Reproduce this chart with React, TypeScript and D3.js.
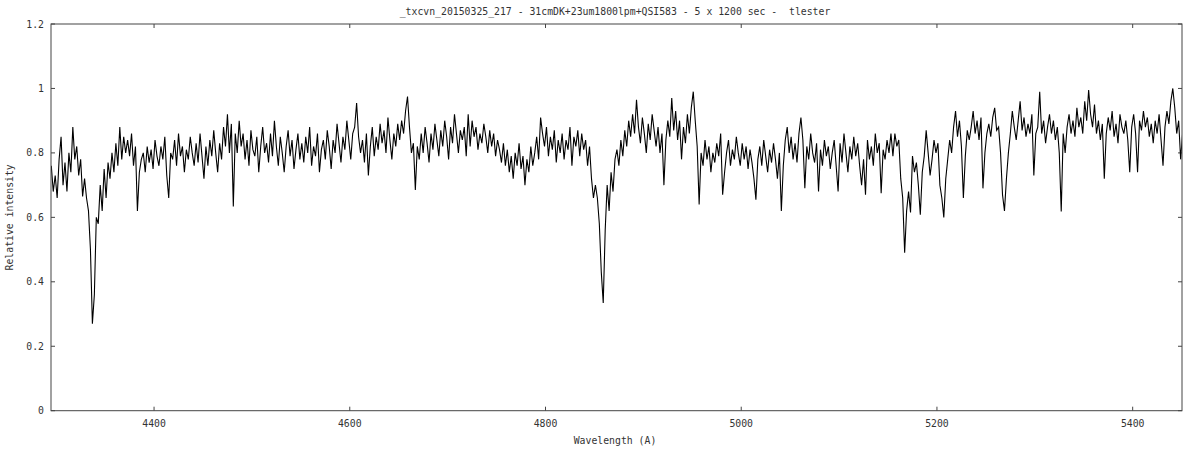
import React from "react";
import * as d3 from "d3";

const TITLE = "_txcvn_20150325_217 - 31cmDK+23um1800lpm+QSI583 - 5 x 1200 sec -  tlester";
const X_LABEL = "Wavelength (A)";
const Y_LABEL = "Relative intensity";
const X_TICKS = [4400, 4600, 4800, 5000, 5200, 5400];
const Y_TICKS = [0, 0.2, 0.4, 0.6, 0.8, 1, 1.2];
const X_DOMAIN = [4294.7, 5450.4];
const Y_DOMAIN = [0, 1.2];

// sampled every 2 Å starting at 4295 Å
const START_WL = 4295;
const STEP_WL = 2;
const intensity = [
  0.76,0.68,0.73,0.66,0.78,0.85,0.70,0.77,0.68,0.80,
  0.74,0.88,0.78,0.82,0.73,0.78,0.665,0.72,0.66,0.62,
  0.50,0.27,0.36,0.60,0.58,0.70,0.62,0.75,0.66,0.77,
  0.72,0.80,0.74,0.83,0.76,0.88,0.78,0.85,0.80,0.84,
  0.79,0.86,0.76,0.82,0.62,0.74,0.78,0.80,0.74,0.82,
  0.77,0.81,0.75,0.84,0.79,0.76,0.82,0.78,0.85,0.73,
  0.66,0.80,0.78,0.84,0.76,0.86,0.79,0.82,0.74,0.81,
  0.78,0.85,0.80,0.76,0.83,0.77,0.86,0.79,0.72,0.82,
  0.76,0.84,0.79,0.87,0.80,0.74,0.83,0.78,0.88,0.82,
  0.92,0.80,0.89,0.634,0.86,0.80,0.90,0.82,0.86,0.78,
  0.84,0.76,0.87,0.81,0.79,0.85,0.74,0.82,0.88,0.80,
  0.83,0.77,0.86,0.79,0.90,0.82,0.76,0.85,0.80,0.74,
  0.82,0.87,0.79,0.84,0.75,0.81,0.86,0.78,0.83,0.77,
  0.85,0.80,0.88,0.76,0.82,0.79,0.86,0.74,0.81,0.84,
  0.78,0.87,0.82,0.75,0.84,0.80,0.89,0.83,0.77,0.85,
  0.81,0.90,0.84,0.78,0.86,0.88,0.955,0.85,0.80,0.84,
  0.77,0.86,0.73,0.82,0.88,0.79,0.85,0.81,0.89,0.83,
  0.87,0.80,0.91,0.84,0.78,0.86,0.82,0.89,0.84,0.90,
  0.86,0.93,0.975,0.88,0.80,0.83,0.685,0.82,0.78,0.86,
  0.80,0.88,0.83,0.77,0.86,0.81,0.89,0.84,0.79,0.87,
  0.82,0.90,0.85,0.78,0.88,0.83,0.92,0.86,0.80,0.87,
  0.84,0.88,0.79,0.92,0.82,0.90,0.85,0.88,0.81,0.86,
  0.83,0.89,0.85,0.80,0.87,0.82,0.86,0.79,0.84,0.81,
  0.77,0.83,0.76,0.81,0.74,0.79,0.72,0.80,0.76,0.83,
  0.75,0.79,0.70,0.78,0.74,0.82,0.76,0.80,0.85,0.78,
  0.91,0.86,0.82,0.88,0.79,0.85,0.81,0.87,0.77,0.84,
  0.80,0.86,0.78,0.84,0.81,0.88,0.76,0.85,0.82,0.87,
  0.79,0.86,0.81,0.84,0.76,0.82,0.72,0.66,0.70,0.66,
  0.58,0.43,0.334,0.56,0.70,0.62,0.74,0.68,0.78,0.81,
  0.76,0.84,0.79,0.87,0.82,0.90,0.85,0.92,0.86,0.965,
  0.88,0.83,0.91,0.86,0.80,0.89,0.84,0.92,0.87,0.82,
  0.88,0.80,0.86,0.70,0.84,0.90,0.85,0.97,0.87,0.93,
  0.84,0.90,0.78,0.88,0.83,0.92,0.86,0.94,0.99,0.90,
  0.82,0.64,0.80,0.76,0.84,0.78,0.82,0.74,0.80,0.77,
  0.83,0.79,0.86,0.67,0.74,0.80,0.84,0.76,0.81,0.78,
  0.85,0.80,0.76,0.83,0.78,0.82,0.75,0.81,0.77,0.72,
  0.655,0.78,0.82,0.76,0.84,0.79,0.74,0.81,0.77,0.83,
  0.78,0.72,0.80,0.62,0.76,0.84,0.88,0.80,0.85,0.78,
  0.83,0.77,0.86,0.91,0.84,0.69,0.82,0.78,0.86,0.80,
  0.77,0.83,0.68,0.81,0.76,0.84,0.79,0.82,0.75,0.80,
  0.84,0.76,0.68,0.83,0.77,0.86,0.80,0.74,0.82,0.78,
  0.85,0.79,0.83,0.76,0.70,0.78,0.67,0.84,0.78,0.82,
  0.76,0.86,0.80,0.83,0.675,0.81,0.78,0.84,0.80,0.86,
  0.79,0.86,0.82,0.84,0.72,0.66,0.49,0.62,0.68,0.615,
  0.79,0.74,0.77,0.70,0.608,0.74,0.79,0.87,0.80,0.73,
  0.78,0.84,0.80,0.83,0.70,0.66,0.60,0.72,0.78,0.84,
  0.80,0.88,0.93,0.85,0.90,0.82,0.66,0.79,0.87,0.84,
  0.88,0.93,0.86,0.90,0.84,0.91,0.69,0.80,0.86,0.89,
  0.85,0.91,0.94,0.87,0.88,0.80,0.67,0.62,0.72,0.80,
  0.86,0.93,0.88,0.84,0.90,0.96,0.87,0.91,0.85,0.89,
  0.86,0.92,0.73,0.86,0.88,0.99,0.86,0.90,0.83,0.88,
  0.92,0.86,0.90,0.84,0.88,0.80,0.618,0.86,0.80,0.88,
  0.92,0.86,0.90,0.85,0.94,0.88,0.91,0.86,0.96,0.90,
  0.995,0.92,0.88,0.95,0.86,0.90,0.84,0.89,0.72,0.86,
  0.91,0.87,0.93,0.85,0.89,0.83,0.92,0.88,0.86,0.90,
  0.84,0.74,0.88,0.92,0.86,0.74,0.90,0.87,0.93,0.88,
  0.91,0.85,0.89,0.83,0.90,0.86,0.92,0.84,0.76,0.88,
  0.93,0.89,0.96,1.00,0.94,0.86,0.90,0.78,0.86,0.84,
];

const W = 1200;
const H = 450;
const M = { left: 51, right: 1182, top: 24, bottom: 410.7 };
const TEXT_COLOR = "#333";
const AXIS_COLOR = "#444";
const FONT = "'DejaVu Sans Mono', monospace";

export default function App() {
  const x = d3.scaleLinear().domain(X_DOMAIN).range([M.left, M.right]);
  const y = d3.scaleLinear().domain(Y_DOMAIN).range([M.bottom, M.top]);
  const pts: [number, number][] = intensity.map((v, i) => [START_WL + i * STEP_WL, v]);
  const line = d3
    .line<[number, number]>()
    .x((d) => x(d[0]))
    .y((d) => y(d[1]));
  const tick = 4;
  return (
    <svg
      width={W}
      height={H}
      style={{ position: "absolute", left: 0, top: 0, background: "#fff" }}
      fontFamily={FONT}
    >
      <defs>
        <clipPath id="plotclip">
          <rect x={M.left} y={M.top} width={M.right - M.left} height={M.bottom - M.top} />
        </clipPath>
      </defs>
      <rect x={0} y={0} width={W} height={H} fill="#fff" />
      {X_TICKS.map((t) => (
        <g key={"xt" + t}>
          <line x1={x(t)} x2={x(t)} y1={M.bottom} y2={M.bottom - tick} stroke={AXIS_COLOR} />
          <line x1={x(t)} x2={x(t)} y1={M.top} y2={M.top + tick} stroke={AXIS_COLOR} />
          <text x={x(t)} y={M.bottom + 16} textAnchor="middle" fontSize={9.8} fill={TEXT_COLOR}>
            {t}
          </text>
        </g>
      ))}
      {Y_TICKS.map((t) => (
        <g key={"yt" + t}>
          <line x1={M.left} x2={M.left + tick} y1={y(t)} y2={y(t)} stroke={AXIS_COLOR} />
          <line x1={M.right} x2={M.right - tick} y1={y(t)} y2={y(t)} stroke={AXIS_COLOR} />
          <text x={M.left - 7} y={y(t) + 3.5} textAnchor="end" fontSize={9.8} fill={TEXT_COLOR}>
            {d3.format("~g")(t)}
          </text>
        </g>
      ))}
      <path
        d={line(pts) || ""}
        fill="none"
        stroke="#000"
        strokeWidth={1.1}
        strokeLinejoin="miter"
        clipPath="url(#plotclip)"
      />
      <rect
        x={M.left}
        y={M.top}
        width={M.right - M.left}
        height={M.bottom - M.top}
        fill="none"
        stroke={AXIS_COLOR}
        strokeWidth={1}
      />
      <text
        x={615}
        y={15}
        textAnchor="middle"
        fontSize={9.8}
        fill={TEXT_COLOR}
        style={{ whiteSpace: "pre" }}
      >
        {TITLE}
      </text>
      <text x={615} y={444} textAnchor="middle" fontSize={9.8} fill={TEXT_COLOR}>
        {X_LABEL}
      </text>
      <text
        transform={`translate(13,${(M.top + M.bottom) / 2}) rotate(-90)`}
        textAnchor="middle"
        fontSize={9.8}
        fill={TEXT_COLOR}
      >
        {Y_LABEL}
      </text>
    </svg>
  );
}
